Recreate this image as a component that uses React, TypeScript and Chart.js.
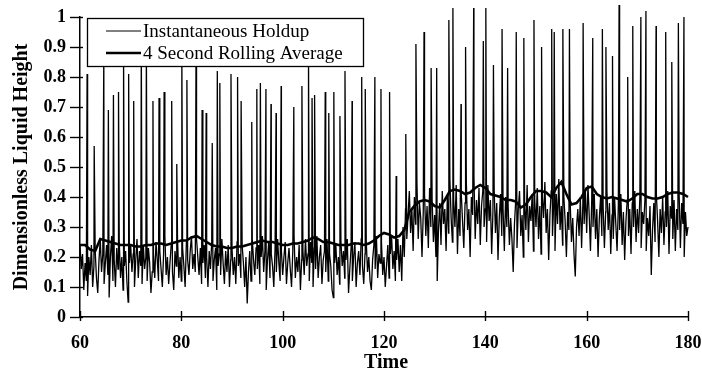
import { useEffect, useRef } from "react";
import { Chart, registerables } from "chart.js";

Chart.register(...registerables);

// Time axis
const timeStart = 60;
const timeEnd = 180;
const baseStep = 0.25; // seconds between baseline readings
const xTicks = [60, 80, 100, 120, 140, 160, 180];
const yTicks = [0, 0.1, 0.2, 0.3, 0.4, 0.5, 0.6, 0.7, 0.8, 0.9, 1];

// Instantaneous holdup – baseline readings every 0.25 s (60 → 180 s)
const holdupBaseline = [
  0.24, 0.16, 0.21, 0.09, 0.18, 0.12, 0.07, 0.2, 0.14, 0.24, 0.1, 0.17, 0.22, 0.13, 0.08, 0.19, 0.26, 0.15, 0.21, 0.11,
  0.18, 0.24, 0.14, 0.065, 0.2, 0.27, 0.12, 0.19, 0.1, 0.23, 0.16, 0.25, 0.13, 0.2, 0.09, 0.17, 0.22, 0.12, 0.05, 0.18,
  0.24, 0.15, 0.21, 0.1, 0.19, 0.26, 0.13, 0.22, 0.17, 0.11, 0.24, 0.16, 0.2, 0.12, 0.23, 0.18, 0.08, 0.15, 0.21, 0.13,
  0.25, 0.19, 0.12, 0.22, 0.16, 0.1, 0.21, 0.27, 0.14, 0.2, 0.11, 0.18, 0.24, 0.15, 0.09, 0.22, 0.17, 0.26, 0.13, 0.2,
  0.12, 0.23, 0.17, 0.1, 0.25, 0.19, 0.14, 0.22, 0.27, 0.16, 0.21, 0.15, 0.26, 0.2, 0.14, 0.23, 0.11, 0.18, 0.24, 0.13,
  0.2, 0.1, 0.22, 0.16, 0.25, 0.12, 0.19, 0.23, 0.09, 0.17, 0.21, 0.14, 0.26, 0.18, 0.11, 0.22, 0.15, 0.24, 0.1, 0.19,
  0.23, 0.14, 0.2, 0.11, 0.25, 0.17, 0.21, 0.13, 0.24, 0.18, 0.1, 0.2, 0.045, 0.15, 0.22, 0.12, 0.26, 0.19, 0.14, 0.23,
  0.16, 0.24, 0.11, 0.2, 0.27, 0.15, 0.22, 0.09, 0.19, 0.25, 0.13, 0.21, 0.17, 0.1, 0.23, 0.15, 0.26, 0.18, 0.12, 0.22,
  0.14, 0.2, 0.25, 0.11, 0.18, 0.23, 0.16, 0.1, 0.22, 0.27, 0.13, 0.2, 0.15, 0.24, 0.09, 0.19, 0.22, 0.14, 0.26, 0.17,
  0.21, 0.12, 0.25, 0.18, 0.1, 0.23, 0.16, 0.27, 0.13, 0.2, 0.24, 0.11, 0.19, 0.22, 0.15, 0.26, 0.12, 0.21, 0.17, 0.09,
  0.065, 0.18, 0.24, 0.14, 0.2, 0.11, 0.25, 0.17, 0.22, 0.13, 0.19, 0.26, 0.08, 0.16, 0.23, 0.12, 0.2, 0.25, 0.1, 0.18,
  0.22, 0.14, 0.26, 0.17, 0.11, 0.21, 0.25, 0.15, 0.2, 0.12, 0.09, 0.19, 0.24, 0.16, 0.27, 0.13, 0.21, 0.18, 0.25, 0.14,
  0.2, 0.1, 0.17, 0.24, 0.13, 0.21, 0.27, 0.16, 0.22, 0.12, 0.19, 0.26, 0.15, 0.24, 0.12, 0.3, 0.2, 0.36, 0.26, 0.34,
  0.42, 0.28, 0.36, 0.22, 0.4, 0.31, 0.45, 0.26, 0.38, 0.33, 0.2, 0.35, 0.41, 0.27, 0.37, 0.23, 0.43, 0.3, 0.39, 0.25,
  0.34, 0.2, 0.12, 0.29, 0.38, 0.24, 0.42, 0.31, 0.36, 0.22, 0.4, 0.28, 0.46, 0.33, 0.25, 0.39, 0.3, 0.44, 0.21, 0.36,
  0.27, 0.41, 0.32, 0.23, 0.38, 0.45, 0.29, 0.36, 0.2, 0.4, 0.34, 0.47, 0.26, 0.39, 0.31, 0.43, 0.24, 0.37, 0.42, 0.3,
  0.36, 0.25, 0.44, 0.32, 0.39, 0.21, 0.35, 0.42, 0.28, 0.38, 0.19, 0.33, 0.41, 0.27, 0.36, 0.22, 0.4, 0.3, 0.37, 0.24,
  0.33, 0.26, 0.15, 0.31, 0.39, 0.23, 0.36, 0.42, 0.27, 0.34, 0.2, 0.38, 0.29, 0.44, 0.25, 0.37, 0.32, 0.41, 0.22, 0.39,
  0.3, 0.43, 0.26, 0.37, 0.21, 0.4, 0.33, 0.45, 0.28, 0.36, 0.19, 0.34, 0.42, 0.27, 0.38, 0.22, 0.41, 0.31, 0.46, 0.29,
  0.37, 0.24, 0.4, 0.32, 0.2, 0.35, 0.29, 0.38, 0.25, 0.33, 0.21, 0.135, 0.3, 0.36, 0.27, 0.4, 0.23, 0.38, 0.31, 0.42,
  0.28, 0.44, 0.34, 0.22, 0.39, 0.3, 0.41, 0.26, 0.36, 0.2, 0.33, 0.4, 0.27, 0.37, 0.23, 0.35, 0.42, 0.29, 0.38, 0.21,
  0.34, 0.26, 0.4, 0.31, 0.22, 0.37, 0.29, 0.41, 0.24, 0.35, 0.19, 0.32, 0.39, 0.27, 0.36, 0.21, 0.38, 0.3, 0.42, 0.25,
  0.36, 0.28, 0.4, 0.23, 0.35, 0.31, 0.39, 0.22, 0.33, 0.27, 0.37, 0.14, 0.29, 0.38, 0.25, 0.41, 0.32, 0.2, 0.36, 0.28,
  0.4, 0.24, 0.35, 0.3, 0.42, 0.21, 0.37, 0.33, 0.26, 0.39, 0.22, 0.36, 0.29, 0.41, 0.23, 0.38, 0.31, 0.2, 0.35, 0.27,
  0.3,
];

// Instantaneous holdup – slug spikes (time in s, peak height)
const spikeTimes = [
  61.4, 62.8, 64.7, 65.6, 66.6, 67.6, 68.6, 69.6, 70.6, 72.1, 73.1, 74.4, 75.6, 76.6, 78.1, 79.1, 80.1, 81.1, 82.9, 84.1,
  84.9, 86.1, 87.1, 87.6, 89.8, 91.1, 91.8, 93.9, 94.9, 95.6, 96.7, 97.7, 98.7, 99.7, 102.2, 103.8, 105.1, 105.8, 106.3, 108.4,
  109.1, 110.1, 111.3, 112.3, 113.7, 115.6, 116.3, 118.2, 119.4, 121.1, 122.4, 124.3, 126.3, 127.9, 129.3, 130.4, 132.8, 133.6, 135.2, 136.1,
  137.7, 139.6, 140.1, 141.6, 143.3, 144.4, 146.1, 147.6, 149.6, 151.1, 153.1, 153.6, 155.3, 156.6, 159.3, 161.2, 163.1, 163.8, 165.1, 166.4,
  168.1, 169.1, 170.7, 171.7, 173.7, 175.6, 176.8, 178.1, 179.2,
];
const spikePeaks = [
  0.81, 0.57, 0.88, 0.69, 0.74, 0.75, 0.88, 0.81, 0.72, 0.9, 0.9, 0.72, 0.73, 0.75, 0.72, 0.51, 0.88, 0.79, 0.88, 0.69,
  0.68, 0.58, 0.82, 0.78, 0.81, 0.8, 0.72, 0.65, 0.76, 0.78, 0.76, 0.71, 0.68, 0.77, 0.7, 0.77, 0.88, 0.73, 0.74, 0.75,
  0.68, 0.75, 0.67, 0.82, 0.72, 0.8, 0.76, 0.8, 0.76, 0.75, 0.47, 0.61, 0.91, 0.95, 0.83, 0.83, 0.99, 1.03, 0.71, 0.9,
  1.03, 0.92, 1.03, 0.84, 0.96, 0.83, 0.95, 0.93, 0.99, 0.9, 0.96, 0.95, 0.96, 0.96, 0.98, 0.93, 0.96, 0.9, 0.87, 1.04,
  0.8, 0.97, 1.0, 1.02, 0.97, 0.95, 0.85, 0.98, 1.0,
];

// 4 second rolling average, one reading per second (60 → 180 s)
const rollingAverage = [
  0.24, 0.24, 0.225, 0.22, 0.26, 0.255, 0.25, 0.245, 0.24, 0.24,
  0.24, 0.235, 0.235, 0.24, 0.24, 0.245, 0.245, 0.24, 0.245, 0.25,
  0.255, 0.255, 0.265, 0.27, 0.26, 0.25, 0.24, 0.235, 0.235, 0.23,
  0.23, 0.235, 0.235, 0.24, 0.245, 0.25, 0.255, 0.25, 0.25, 0.245,
  0.24, 0.24, 0.245, 0.245, 0.25, 0.255, 0.265, 0.26, 0.25, 0.25,
  0.245, 0.24, 0.24, 0.24, 0.245, 0.245, 0.24, 0.245, 0.255, 0.27,
  0.28, 0.275, 0.265, 0.27, 0.29, 0.35, 0.37, 0.385, 0.39, 0.385,
  0.37, 0.365, 0.39, 0.42, 0.425, 0.42, 0.41, 0.415, 0.43, 0.44,
  0.43, 0.41, 0.405, 0.4, 0.39, 0.39, 0.385, 0.365, 0.375, 0.4,
  0.42, 0.42, 0.415, 0.4, 0.43, 0.45, 0.41, 0.375, 0.38, 0.4,
  0.43, 0.435, 0.41, 0.4, 0.395, 0.4, 0.395, 0.39, 0.385, 0.395,
  0.41, 0.41, 0.4, 0.395, 0.395, 0.4, 0.41, 0.415, 0.415, 0.41,
  0.4,
];

const legendLabels = ["Instantaneous Holdup", "4 Second Rolling Average"];
const xTitle = "Time";
const yTitle = "Dimensionless Liquid Height";

const SERIF = '"Liberation Serif", "Times New Roman", serif';

function buildHoldup() {
  const pts: { x: number; y: number }[] = holdupBaseline.map((v, i) => ({
    x: timeStart + i * baseStep,
    y: v,
  }));
  spikeTimes.forEach((t, i) => pts.push({ x: t, y: spikePeaks[i] }));
  pts.sort((a, b) => a.x - b.x);
  return pts;
}

function buildAverage() {
  return rollingAverage.map((v, i) => ({ x: timeStart + i, y: v }));
}

const decorPlugin = {
  id: "decor",
  afterDatasetsDraw(chart: any) {
    const { ctx, chartArea, scales } = chart;
    const { left, right, top, bottom } = chartArea;
    ctx.save();
    ctx.strokeStyle = "#000";
    ctx.lineWidth = 1.4;
    // crossing tick marks
    scales.y.ticks.forEach((t: any) => {
      const py = Math.round(scales.y.getPixelForValue(t.value)) + 0.5;
      ctx.beginPath();
      ctx.moveTo(left - 10, py);
      ctx.lineTo(left + 3, py);
      ctx.stroke();
    });
    scales.x.ticks.forEach((t: any) => {
      const px = Math.round(scales.x.getPixelForValue(t.value)) + 0.5;
      ctx.beginPath();
      ctx.moveTo(px, bottom - 6);
      ctx.lineTo(px, bottom + 4);
      ctx.stroke();
    });

    // legend box
    const lx = 87, ly = 18, lw = 276, lh = 48;
    ctx.fillStyle = "#fff";
    ctx.fillRect(lx, ly, lw, lh);
    ctx.lineWidth = 1.3;
    ctx.strokeStyle = "#000";
    ctx.strokeRect(lx + 0.5, ly + 0.5, lw, lh);
    const rows = [
      { y: 31, w: 1 },
      { y: 53, w: 2.5 },
    ];
    ctx.font = `19px ${SERIF}`;
    ctx.fillStyle = "#000";
    ctx.textAlign = "left";
    ctx.textBaseline = "middle";
    rows.forEach((r, i) => {
      ctx.lineWidth = r.w;
      ctx.beginPath();
      ctx.moveTo(106, r.y);
      ctx.lineTo(141, r.y);
      ctx.stroke();
      ctx.fillText(legendLabels[i], 143, r.y + 1);
    });

    // axis titles
    ctx.font = `bold 20px ${SERIF}`;
    ctx.textAlign = "center";
    ctx.textBaseline = "middle";
    ctx.fillText(xTitle, (left + right) / 2 + 2, 363);
    ctx.save();
    ctx.translate(22, (top + bottom) / 2);
    ctx.rotate(-Math.PI / 2);
    ctx.fillText(yTitle, 0, 0);
    ctx.restore();
    ctx.restore();
  },
};

export default function App() {
  const canvasRef = useRef<HTMLCanvasElement | null>(null);

  useEffect(() => {
    if (!canvasRef.current) return;
    const chart = new Chart(canvasRef.current, {
      type: "line",
      data: {
        datasets: [
          {
            label: legendLabels[1],
            data: buildAverage(),
            borderColor: "#000",
            borderWidth: 2.6,
            pointRadius: 0,
            tension: 0,
            fill: false,
            clip: false as any,
            order: 0,
          },
          {
            label: legendLabels[0],
            data: buildHoldup(),
            borderColor: "#000",
            borderWidth: 1.3,
            pointRadius: 0,
            tension: 0,
            fill: false,
            clip: false as any,
            order: 1,
          },
        ],
      },
      options: {
        animation: false,
        responsive: false,
        devicePixelRatio: 1,
        events: [],
        layout: { padding: { left: 0, right: 14, top: 17, bottom: 0 } },
        plugins: {
          legend: { display: false },
          tooltip: { enabled: false },
          title: { display: false },
        },
        scales: {
          x: {
            type: "linear",
            min: timeStart,
            max: timeEnd,
            afterBuildTicks: (s: any) => {
              s.ticks = xTicks.map((v) => ({ value: v }));
            },
            afterFit: (s: any) => {
              s.height = 59;
              s.paddingLeft = 0;
              s.paddingRight = 0;
            },
            grid: { display: false, drawTicks: false },
            border: { display: true, color: "#000", width: 1.5 },
            ticks: {
              color: "#000",
              padding: 16,
              maxRotation: 0,
              font: { family: SERIF, size: 18, weight: "bold" },
              callback: (v: any) => String(v),
            },
          },
          y: {
            type: "linear",
            min: 0,
            max: 1,
            afterBuildTicks: (s: any) => {
              s.ticks = yTicks.map((v) => ({ value: v }));
            },
            afterFit: (s: any) => {
              s.width = 80;
              s.paddingTop = 0;
              s.paddingBottom = 0;
            },
            grid: { display: false, drawTicks: false },
            border: { display: true, color: "#000", width: 1.5 },
            ticks: {
              color: "#000",
              padding: 14,
              font: { family: SERIF, size: 18, weight: "bold" },
              callback: (v: any) => String(Number(Number(v).toFixed(1))),
            },
          },
        },
      },
      plugins: [decorPlugin],
    });
    return () => chart.destroy();
  }, []);

  return (
    <div style={{ position: "fixed", left: 0, top: 0, width: 702, height: 376, background: "#fff" }}>
      <canvas ref={canvasRef} width={702} height={376} style={{ display: "block" }} />
    </div>
  );
}
